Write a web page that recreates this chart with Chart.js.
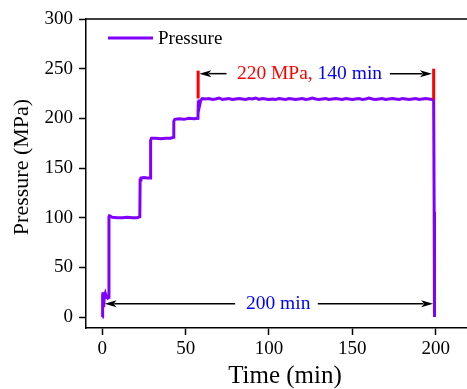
<!DOCTYPE html>
<html>
<head>
<meta charset="utf-8">
<script src="https://cdn.jsdelivr.net/npm/chart.js@4/dist/chart.umd.min.js"></script>
<style>
  html, body { margin: 0; padding: 0; background: #ffffff; }
  #wrap { width: 467px; height: 389px; }
</style>
</head>
<body>
<div id="wrap"><canvas id="c" width="467" height="389"></canvas></div>
<script>
// ---------- data ----------
const seriesLabel = "Pressure";
const timeMin = [
  0, 0.2, 0.5, 0.8, 1.2, 1.8, 2.5, 3.2, 3.8, 4.0, 4.3, 6, 9, 12, 15, 18, 21,
  22.5, 22.7, 23.2, 25, 27, 28.8, 29.0, 29.5, 32, 35, 38, 41, 42.7, 42.9, 43.5,
  46, 49, 52, 55, 57.4, 57.6, 58.0, 58.5, 59, 60,
  62, 64, 66, 68, 70, 72, 74, 76, 78, 80, 82, 84, 86, 88, 90, 92, 94, 96, 98, 100,
  102, 104, 106, 108, 110, 112, 114, 116, 118, 120, 122, 124, 126, 128, 130, 132,
  134, 136, 138, 140, 142, 144, 146, 148, 150, 152, 154, 156, 158, 160, 162, 164,
  166, 168, 170, 172, 174, 176, 178, 180, 182, 184, 186, 188, 190, 192, 194, 196, 198,
  198.8, 199.0, 199.1, 199.3
];
const pressureMPa = [
  0, 22, 25, 10, 21, 24, 20, 19, 20, 101, 102, 100.5, 100, 100, 100.5, 100, 100,
  101, 138, 140, 140.5, 140, 140, 178, 180, 180, 179.5, 180, 180, 181, 197, 199,
  199.5, 199, 200, 199.5, 200, 216, 219, 214, 218, 220,
  219.5, 220, 219, 219.5, 220.5, 219, 219.5, 220, 219, 219.5, 220, 219.5, 219, 220, 219.5, 220.5, 219, 220, 219.5, 219,
  219.5, 219, 220, 219.5, 219, 220, 219.5, 219, 219.5, 220, 219, 219.5, 220.5, 219.5, 219, 219.5,
  220, 219, 219.5, 220, 219.5, 219, 220, 219.5, 219, 219.5, 220, 219, 219.5, 220.5, 219.5, 219,
  219.5, 220, 219, 219.5, 220, 219.5, 219, 220, 219.5, 219, 219.5, 220, 219, 219.5, 220, 219.5, 219,
  219, 219, 106, 0
];
const xTickValues = [0, 50, 100, 150, 200];
const yTickValues = [0, 50, 100, 150, 200, 250, 300];
const xTitle = "Time (min)";
const yTitle = "Pressure (MPa)";

// annotation values (in data units)
const markerTimes = [57.5, 198.8];
const markerLow = [220, 219];
const markerHigh = [248, 250];
const holdLabelParts = ["220 MPa, ", "140 min"];
const holdLabelAt = [124.3, 244.5];
const holdArrowLeft = [74.5, 58.2];
const holdArrowRight = [172.5, 197.8];
const holdArrowLevel = 245;
const totalLabel = "200 min";
const totalLabelAt = [105.5, 13.5];
const totalArrowLeft = [79.7, 1.4];
const totalArrowRight = [129.3, 198.5];
const totalArrowLevel = 13.5;

// ---------- styling ----------
const FONT = "'Liberation Serif', 'Times New Roman', serif";
const PURPLE = "#8000ff";

function arrow(ctx, x1, y1, x2, y2) {
  const ang = Math.atan2(y2 - y1, x2 - x1);
  const L = 12, W = 3.5;
  const c = Math.cos(ang), s = Math.sin(ang);
  ctx.beginPath();
  ctx.moveTo(x1, y1);
  ctx.lineTo(x2 - L * c * 0.8, y2 - L * s * 0.8);
  ctx.stroke();
  ctx.beginPath();
  ctx.moveTo(x2, y2);
  ctx.lineTo(x2 - L * c - W * s, y2 - L * s + W * c);
  ctx.lineTo(x2 - L * c * 0.75, y2 - L * s * 0.75);
  ctx.lineTo(x2 - L * c + W * s, y2 - L * s - W * c);
  ctx.closePath();
  ctx.fill();
}

const extras = {
  id: 'extras',
  afterDatasetsDraw(chart) {
    const { ctx, chartArea, scales: { x, y } } = chart;
    ctx.save();
    // top frame line
    ctx.strokeStyle = '#000';
    ctx.lineWidth = 1.5;
    ctx.beginPath();
    ctx.moveTo(chartArea.left, chartArea.top);
    ctx.lineTo(chart.width, chartArea.top);
    ctx.stroke();

    // red markers
    ctx.strokeStyle = '#ff0000';
    ctx.lineWidth = 3;
    markerTimes.forEach((t, i) => {
      ctx.beginPath();
      ctx.moveTo(x.getPixelForValue(t), y.getPixelForValue(markerLow[i]));
      ctx.lineTo(x.getPixelForValue(t), y.getPixelForValue(markerHigh[i]));
      ctx.stroke();
    });

    // arrows
    ctx.strokeStyle = '#000';
    ctx.fillStyle = '#000';
    ctx.lineWidth = 1.5;
    const hy = y.getPixelForValue(holdArrowLevel);
    arrow(ctx, x.getPixelForValue(holdArrowLeft[0]), hy, x.getPixelForValue(holdArrowLeft[1]), hy);
    arrow(ctx, x.getPixelForValue(holdArrowRight[0]), hy, x.getPixelForValue(holdArrowRight[1]), hy);
    const ty = y.getPixelForValue(totalArrowLevel);
    arrow(ctx, x.getPixelForValue(totalArrowLeft[0]), ty, x.getPixelForValue(totalArrowLeft[1]), ty);
    arrow(ctx, x.getPixelForValue(totalArrowRight[0]), ty, x.getPixelForValue(totalArrowRight[1]), ty);

    // labels
    ctx.font = "19.5px " + FONT;
    ctx.textBaseline = 'middle';
    ctx.textAlign = 'left';
    const w0 = ctx.measureText(holdLabelParts[0]).width;
    const w1 = ctx.measureText(holdLabelParts[1]).width;
    const lx = x.getPixelForValue(holdLabelAt[0]) - (w0 + w1) / 2;
    const ly = y.getPixelForValue(holdLabelAt[1]);
    ctx.fillStyle = '#ff0000';
    ctx.fillText(holdLabelParts[0], lx, ly);
    ctx.fillStyle = '#0000ff';
    ctx.fillText(holdLabelParts[1], lx + w0, ly);
    ctx.textAlign = 'center';
    ctx.fillText(totalLabel, x.getPixelForValue(totalLabelAt[0]), y.getPixelForValue(totalLabelAt[1]));

    // legend inside plot
    const ds = chart.data.datasets[0];
    const gx = chartArea.left + 22, gy = chartArea.top + 19;
    ctx.strokeStyle = ds.borderColor;
    ctx.lineWidth = 3;
    ctx.beginPath();
    ctx.moveTo(gx, gy);
    ctx.lineTo(gx + 45, gy);
    ctx.stroke();
    ctx.fillStyle = '#000';
    ctx.textAlign = 'left';
    ctx.font = "19px " + FONT;
    ctx.fillText(ds.label, gx + 50, gy + 1);

    // axis titles
    ctx.fillStyle = '#000';
    ctx.textAlign = 'center';
    ctx.textBaseline = 'middle';
    ctx.font = "25px " + FONT;
    ctx.fillText(xTitle, chartArea.left + 199, chart.height - 13);
    ctx.save();
    ctx.translate(22, chartArea.top + 148);
    ctx.rotate(-Math.PI / 2);
    ctx.font = "22px " + FONT;
    ctx.fillText(yTitle, 0, 0);
    ctx.restore();
    ctx.restore();
  }
};

const tickFont = { family: FONT, size: 19 };

new Chart(document.getElementById('c'), {
  type: 'line',
  data: {
    datasets: [{
      label: seriesLabel,
      data: timeMin.map((t, i) => ({ x: t, y: pressureMPa[i] })),
      borderColor: PURPLE,
      backgroundColor: PURPLE,
      borderWidth: 3,
      pointRadius: 0,
      tension: 0,
      fill: false
    }]
  },
  options: {
    responsive: false,
    animation: false,
    devicePixelRatio: 1,
    layout: { padding: { top: 19, right: 1, left: 0, bottom: 0 } },
    plugins: { legend: { display: false }, tooltip: { enabled: false } },
    scales: {
      x: {
        type: 'linear',
        min: -9.78,
        max: 218.2,
        afterBuildTicks: (s) => { s.ticks = xTickValues.map(v => ({ value: v })); },
        afterFit: (s) => { s.height = 61; },
        grid: { display: true, drawOnChartArea: false, drawTicks: true, tickLength: 7, tickColor: '#000', tickWidth: 1.5 },
        border: { display: true, color: '#000', width: 1.5 },
        ticks: { color: '#000', font: tickFont, padding: 3, maxRotation: 0 },
        title: { display: false }
      },
      y: {
        type: 'linear',
        min: -11,
        max: 300,
        afterBuildTicks: (s) => { s.ticks = yTickValues.map(v => ({ value: v })); },
        afterFit: (s) => { s.width = 86; },
        grid: { display: true, drawOnChartArea: false, drawTicks: true, tickLength: 7, tickColor: '#000', tickWidth: 1.5 },
        border: { display: true, color: '#000', width: 1.5 },
        ticks: { color: '#000', font: tickFont, padding: 6 },
        title: { display: false }
      }
    }
  },
  plugins: [extras]
});
</script>
</body>
</html>
